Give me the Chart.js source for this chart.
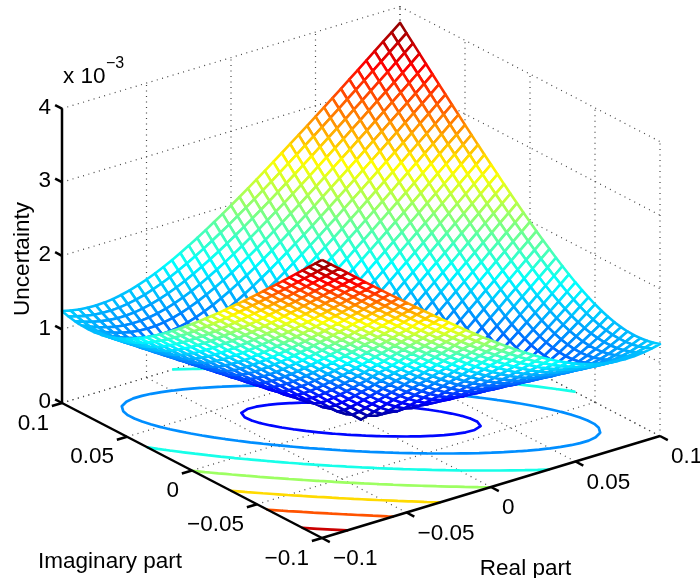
<!DOCTYPE html>
<html>
<head>
<meta charset="utf-8">
<title>Uncertainty</title>
<script src="https://cdn.jsdelivr.net/npm/chart.js@4"></script>
<style>
html, body { margin: 0; padding: 0; background: #fff; }
canvas { display: block; }
</style>
</head>
<body>
<canvas id="chart" width="700" height="578"></canvas>
<script>
// tick values
const realTicks = [-0.1, -0.05, 0, 0.05, 0.1]
const imagTicks = [-0.1, -0.05, 0, 0.05, 0.1]
const zTicks = [0, 1, 2, 3, 4]
const realLabels = ['\u22120.1', '\u22120.05', '0', '0.05', '0.1']
const imagLabels = ['\u22120.1', '\u22120.05', '0', '0.05', '0.1']
const zLabels = ['0', '1', '2', '3', '4']
const contourLevels = [0.5, 1, 1.5, 2, 2.5, 3, 3.5]

// number of mesh cells on each side
const meshCells = 40
const realMax = 0.1

// Height of the surface (x 10^-3). The surface is symmetric
// about both diagonals so a row is one distance s=|i+j| and its entries go over d=|i-j|
const zRows = [
  [0, .063, .125, .188, .25, .313, .375, .438, .5, .563, .625, .688, .75, .813, .875, .938, 1, 1.063, 1.125, 1.188, 1.25],
  [.099, .133, .182, .238, .297, .357, .417, .478, .54, .601, .663, .725, .787, .849, .911, .973, 1.036, 1.098, 1.16, 1.222],
  [.189, .199, .226, .266, .313, .365, .42, .477, .535, .593, .653, .713, .773, .834, .895, .956, 1.018, 1.079, 1.141, 1.202],
  [.285, .299, .324, .358, .399, .446, .495, .548, .602, .658, .715, .773, .831, .89, .95, 1.009, 1.07, 1.13, 1.191],
  [.378, .383, .398, .422, .453, .491, .532, .578, .627, .678, .73, .785, .84, .896, .953, 1.011, 1.069, 1.128, 1.187],
  [.474, .482, .498, .521, .55, .584, .623, .666, .711, .759, .809, .86, .913, .967, 1.022, 1.078, 1.134, 1.191],
  [.567, .57, .581, .597, .62, .647, .68, .716, .756, .799, .844, .891, .94, .991, 1.043, 1.096, 1.15, 1.204],
  [.662, .668, .68, .697, .719, .746, .776, .811, .848, .889, .932, .977, 1.024, 1.072, 1.122, 1.173, 1.225],
  [.756, .759, .766, .779, .796, .818, .844, .873, .906, .942, .981, 1.022, 1.065, 1.11, 1.156, 1.204, 1.254],
  [.851, .856, .865, .878, .896, .917, .942, .971, 1.003, 1.037, 1.074, 1.114, 1.155, 1.198, 1.243, 1.289],
  [.945, .947, .953, .963, .977, .995, 1.017, 1.041, 1.069, 1.1, 1.133, 1.169, 1.206, 1.246, 1.288, 1.331],
  [1.04, 1.044, 1.051, 1.062, 1.077, 1.095, 1.116, 1.14, 1.167, 1.197, 1.229, 1.264, 1.3, 1.339, 1.379],
  [1.134, 1.136, 1.141, 1.149, 1.161, 1.176, 1.194, 1.215, 1.239, 1.266, 1.295, 1.326, 1.36, 1.395, 1.432],
  [1.229, 1.232, 1.238, 1.248, 1.26, 1.276, 1.294, 1.315, 1.338, 1.364, 1.393, 1.423, 1.456, 1.49],
  [1.323, 1.324, 1.329, 1.336, 1.346, 1.359, 1.375, 1.393, 1.414, 1.438, 1.463, 1.491, 1.521, 1.553],
  [1.418, 1.421, 1.426, 1.434, 1.445, 1.459, 1.475, 1.493, 1.514, 1.537, 1.562, 1.589, 1.619],
  [1.512, 1.513, 1.517, 1.524, 1.533, 1.544, 1.558, 1.574, 1.593, 1.613, 1.636, 1.661, 1.688],
  [1.607, 1.609, 1.614, 1.621, 1.631, 1.643, 1.657, 1.673, 1.692, 1.713, 1.735, 1.76],
  [1.701, 1.702, 1.706, 1.711, 1.719, 1.729, 1.742, 1.756, 1.773, 1.792, 1.812, 1.835],
  [1.796, 1.798, 1.802, 1.809, 1.817, 1.828, 1.841, 1.856, 1.872, 1.891, 1.912],
  [1.89, 1.891, 1.894, 1.899, 1.906, 1.916, 1.927, 1.94, 1.955, 1.972, 1.991],
  [1.985, 1.987, 1.991, 1.996, 2.004, 2.014, 2.026, 2.039, 2.054, 2.071],
  [2.079, 2.08, 2.083, 2.087, 2.094, 2.102, 2.113, 2.125, 2.138, 2.154],
  [2.174, 2.175, 2.179, 2.184, 2.192, 2.2, 2.211, 2.223, 2.237],
  [2.268, 2.269, 2.271, 2.276, 2.282, 2.289, 2.299, 2.31, 2.322],
  [2.363, 2.364, 2.368, 2.373, 2.379, 2.387, 2.397, 2.409],
  [2.457, 2.458, 2.46, 2.464, 2.47, 2.477, 2.485, 2.496],
  [2.552, 2.553, 2.556, 2.561, 2.567, 2.575, 2.584],
  [2.646, 2.647, 2.649, 2.653, 2.658, 2.664, 2.672],
  [2.741, 2.742, 2.745, 2.749, 2.755, 2.762],
  [2.835, 2.836, 2.838, 2.841, 2.846, 2.852],
  [2.93, 2.931, 2.934, 2.938, 2.943],
  [3.024, 3.025, 3.027, 3.03, 3.034],
  [3.119, 3.12, 3.122, 3.126],
  [3.213, 3.214, 3.215, 3.218],
  [3.307, 3.309, 3.311],
  [3.402, 3.402, 3.404],
  [3.497, 3.498],
  [3.591, 3.592],
  [3.686],
  [3.78]
]
const zTop = 3.78

function zAt(i, j){
   var s = Math.abs(i + j)
   var d = Math.abs(i - j)
   return zRows[s][(d - s % 2) / 2]
}

// real part of grid line i (same for the imaginary part)
function gridValue(i){
   return i / (meshCells / 2) * realMax
}

// the view of the box, the axes of the chart are in pixels of the picture
function project(re, im, z){
   return {
      x: 361 + re / 0.1 * 169 - im / 0.1 * 130,
      y: 419.5 - re / 0.1 * 51 - im / 0.1 * 67.5 - z * 73.6
   }
}

// same colours as matlab jet
function jet(t){
   function c(v){ return Math.round(255 * Math.max(0, Math.min(1, v))) }
   return 'rgb(' + c(1.5 - Math.abs(4 * t - 3)) + ',' + c(1.5 - Math.abs(4 * t - 2)) + ',' + c(1.5 - Math.abs(4 * t - 1)) + ')'
}

function lineDataset(points, color, width, dash){
   return {
      data: points,
      showLine: true,
      fill: false,
      pointRadius: 0,
      borderColor: color,
      borderWidth: width,
      borderDash: dash || [],
      tension: 0,
      clip: false
   }
}

var datasets = []

// dotted box and grid
const gridColor = '#444444'
const dots = [1, 4.5]
function addGrid(a, b){
   datasets.push(lineDataset([project(a[0], a[1], a[2]), project(b[0], b[1], b[2])], gridColor, 1.2, dots))
}
for (let t of realTicks) {
   addGrid([t, -0.1, 0], [t, 0.1, 0])
   addGrid([t, 0.1, 0], [t, 0.1, 4])
}
for (let t of imagTicks) {
   addGrid([-0.1, t, 0], [0.1, t, 0])
   addGrid([0.1, t, 0], [0.1, t, 4])
}
for (let t of zTicks) {
   addGrid([-0.1, 0.1, t], [0.1, 0.1, t])
   addGrid([0.1, 0.1, t], [0.1, -0.1, t])
}

// contours on the floor, from the same table as the mesh
const half = meshCells / 2
function crossing(i1, j1, i2, j2, level){
   var z1 = zAt(i1, j1)
   var z2 = zAt(i2, j2)
   if ((z1 >= level) == (z2 >= level)) return null
   var f = (level - z1) / (z2 - z1)
   return project(gridValue(i1 + (i2 - i1) * f), gridValue(j1 + (j2 - j1) * f), 0)
}
for (let level of contourLevels) {
   var pts = []
   for (var i = -half; i < half; i++) {
      for (var j = -half; j < half; j++) {
         var found = [
            crossing(i, j, i + 1, j, level),
            crossing(i + 1, j, i + 1, j + 1, level),
            crossing(i + 1, j + 1, i, j + 1, level),
            crossing(i, j + 1, i, j, level)
         ].filter(p => p)
         if (found.length >= 2) {
            pts.push(found[0], found[1], {x: NaN, y: NaN})
         }
      }
   }
   var ds = lineDataset(pts, jet(level / zTop), 2.7)
   ds.borderCapStyle = 'round'
   ds.spanGaps = false
   datasets.push(ds)
}

// mesh cells with white inside, back corner first so front ones hide them
for (var sum = 2 * half - 2; sum >= -2 * half; sum--) {
   for (var i = -half; i < half; i++) {
      var j = sum - i
      if (j < -half || j >= half) continue
      var mean = (zAt(i, j) + zAt(i + 1, j) + zAt(i + 1, j + 1) + zAt(i, j + 1)) / 4
      var corners = [[i, j], [i + 1, j], [i + 1, j + 1], [i, j + 1], [i, j]]
      var cell = lineDataset(corners.map(c => project(gridValue(c[0]), gridValue(c[1]), zAt(c[0], c[1]))), jet(mean / zTop), 2.6)
      cell.fill = 'shape'
      cell.backgroundColor = '#ffffff'
      cell.borderJoinStyle = 'round'
      datasets.push(cell)
   }
}

// solid axes and ticks
const axisWidth = 2.5
function addAxis(a, b){
   datasets.push(lineDataset([project(a[0], a[1], a[2]), project(b[0], b[1], b[2])], '#000000', axisWidth))
}
addAxis([-0.1, 0.1, 0], [-0.1, 0.1, 4])
addAxis([-0.1, -0.1, 0], [-0.1, 0.1, 0])
addAxis([-0.1, -0.1, 0], [0.1, -0.1, 0])
for (let t of realTicks) addAxis([t, -0.1, 0], [t, -0.106, 0])
for (let t of imagTicks) addAxis([-0.1, t, 0], [-0.106, t, 0])
for (let t of zTicks) addAxis([-0.1, 0.1, t], [-0.1, 0.1053, t])

// chart.js paints dataset 0 last
datasets.reverse()

const fontName = '"Liberation Sans", Arial, sans-serif'
function text(ctx, str, x, y, size, align){
   ctx.font = size + 'px ' + fontName
   ctx.textAlign = align
   ctx.textBaseline = 'middle'
   ctx.fillText(str, x, y)
}

const axisText = {
   id: 'axisText',
   afterDraw(chart){
      var ctx = chart.ctx
      ctx.save()
      ctx.fillStyle = '#000000'
      realTicks.forEach((t, k) => {
         var p = project(t, -0.1, 0)
         text(ctx, realLabels[k], p.x + 11, p.y + 21, 22.5, 'left')
      })
      imagTicks.forEach((t, k) => {
         var p = project(-0.1, t, 0)
         text(ctx, imagLabels[k], p.x - 13, p.y + 20.5, 22.5, 'right')
      })
      zTicks.forEach((t, k) => {
         var p = project(-0.1, 0.1, t)
         text(ctx, zLabels[k], p.x - 11, p.y - 1, 22.5, 'right')
      })
      text(ctx, 'x 10', 63, 77, 22.5, 'left')
      text(ctx, '\u22123', 106, 64, 16, 'left')
      text(ctx, 'Imaginary part', 110, 562, 22.5, 'center')
      text(ctx, 'Real part', 525.5, 569, 22.5, 'center')
      ctx.translate(23, 259)
      ctx.rotate(-Math.PI / 2)
      text(ctx, 'Uncertainty', 0, 0, 22.5, 'center')
      ctx.restore()
   }
}

new Chart(document.getElementById('chart').getContext('2d'), {
   type: 'scatter',
   data: { datasets: datasets },
   options: {
      responsive: false,
      animation: false,
      events: [],
      layout: { padding: 0 },
      scales: {
         x: { type: 'linear', min: 0, max: 700, display: false },
         y: { type: 'linear', min: 0, max: 578, reverse: true, display: false }
      },
      plugins: {
         legend: { display: false },
         tooltip: { enabled: false }
      }
   },
   plugins: [axisText]
})
</script>
</body>
</html>
